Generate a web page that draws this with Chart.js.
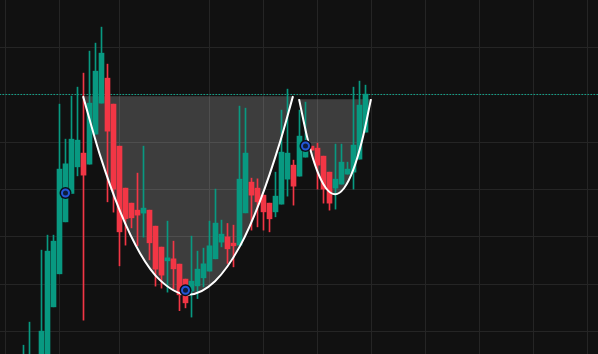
<!DOCTYPE html>
<html>
<head>
  <meta http-equiv="content-type" content="text/html; charset=utf-8"/>
  <script src="https://cdn.jsdelivr.net/npm/chart.js@4/dist/chart.umd.min.js"></script>
  <style>
    html, body { margin: 0; padding: 0; background: #111111; }
    #wrap { width: 598px; height: 354px; }
  </style>
</head>
<body>
<div id="wrap"><canvas id="chart" width="598" height="354"></canvas></div>

<script>
    // candles start at bar index 3 (bars 0..2 are off screen)
    const firstBar = 3;
    const opens  = [42, 42, 44, 43, 44, 55.2, 62.18, 73.16, 79.16, 84.78, 87.68, 85.35, 91.69, 98.24, 103.52, 98.03, 89.15, 80.28, 77.11, 75.63,
                    75.0, 75.63, 72.25, 67.82, 64.92, 65.35, 64.23, 61.06, 58.52, 59.63, 61.33, 62.75, 65.35, 68.87, 69.99, 68.66, 68.24, 75.06, 81.55, 80.28,
                    78.8, 77.11, 75.27, 76.9, 82.18, 85.14, 82.82, 86.83, 89.15, 88.73, 87.04, 83.66, 80.28, 81.13, 83.24, 83.66, 86.41, 92.11];
    const highs  = [47.1, 51.97, 44.9, 67.18, 70.35, 70.35, 98.03, 90.63, 99.72, 101.62, 104.58, 109.23, 110.92, 114.3, 106.48, 98.03, 89.15, 80.28, 77.11, 83.45,
                    89.15, 75.63, 72.25, 67.82, 73.31, 69.08, 64.23, 61.06, 70.14, 66.97, 67.6, 73.31, 80.07, 73.52, 72.82, 72.46, 97.61, 97.18, 82.39, 82.25,
                    78.8, 77.11, 83.66, 96.76, 101.2, 86.2, 96.76, 98.45, 89.15, 89.79, 87.04, 83.66, 89.58, 89.58, 85.77, 101.62, 102.89, 102.04];
    const lows   = [41, 41, 42, 42, 43, 55.2, 62.18, 73.16, 79.16, 82.88, 52.39, 85.35, 91.69, 98.24, 77.39, 75.21, 63.87, 68.24, 71.89, 68.13,
                    69.93, 65.13, 59.58, 59.15, 58.31, 58.94, 54.4, 54.99, 53.04, 56.95, 59.43, 62.75, 65.35, 67.88, 64.37, 63.65, 68.24, 75.06, 71.41, 72.1,
                    71.41, 71.05, 74.22, 76.9, 78.59, 76.69, 82.82, 86.83, 88.31, 80.07, 77.11, 75.63, 75.85, 81.13, 83.24, 80.07, 86.41, 92.11];
    const closes = [44.5, 45, 43, 50.07, 66.97, 69.08, 84.3, 85.42, 90.63, 90.42, 83.03, 98.24, 105.0, 108.8, 92.32, 80.07, 71.05, 73.84, 74.01, 74.58,
                    76.06, 68.73, 63.17, 61.9, 65.56, 63.23, 57.74, 56.05, 60.63, 63.17, 64.29, 68.1, 72.89, 70.56, 67.46, 68.1, 82.18, 87.68, 78.8, 77.39,
                    75.27, 73.8, 78.59, 87.89, 87.68, 80.7, 91.27, 89.15, 88.31, 85.14, 80.07, 77.11, 82.18, 85.77, 84.3, 89.37, 97.82, 100.14];

    // cup outlines (bar index, price)
    const bigCupX = [12.92, 15.75, 19.08, 22.42, 25.75, 30.42, 34.92, 39.08, 42.42, 45.75, 47.92];
    const bigCupY = [99.72, 87.25, 75.42, 66.55, 60.85, 57.78, 60.63, 68.03, 77.54, 90.0, 99.72];
    const bigCupRim = 99.72;
    const smallCupX = [48.92, 50.42, 51.92, 53.42, 54.92, 56.42, 57.92, 59.42, 60.92];
    const smallCupY = [99.08, 90.29, 84.02, 80.26, 79.01, 80.26, 84.02, 90.29, 99.08];
    const smallCupRim = 99.08;

    const resistance = 100.07;
    const markerX = [10, 30, 50];
    const markerY = [79.25, 58.7, 89.18];

    const xGrid = [0, 9, 19, 34, 43, 52, 61, 70, 79, 88, 97];
    const yGrid = [50, 60, 70, 80, 90, 100, 110];

    const upColor = '#089981';
    const downColor = '#f23645';
    const gridColor = '#252525';

    const bars = opens.map((_, i) => firstBar + i);
    const candleColors = opens.map((o, i) => closes[i] >= o ? upColor : downColor);
    const bodies = bars.map((k, i) => ({x: k, y: [opens[i], closes[i]]}));
    const wicks = bars.map((k, i) => ({x: k, y: [lows[i], highs[i]]}));
    const toPoints = (xs, ys) => xs.map((x, i) => ({x: x, y: ys[i]}));

    function cup(xs, ys, rim) {
        return {
            type: 'line',
            data: toPoints(xs, ys),
            borderColor: '#ffffff',
            borderWidth: 2,
            backgroundColor: 'rgba(255,255,255,0.19)',
            fill: {value: rim},
            cubicInterpolationMode: 'monotone',
            pointRadius: 0,
            order: 2
        };
    }

    new Chart(document.getElementById('chart'), {
        type: 'bar',
        data: {
            datasets: [
                {
                    type: 'line',
                    data: toPoints(markerX, markerY),
                    showLine: false,
                    pointRadius: 3.5,
                    pointBorderWidth: 2,
                    pointBorderColor: '#2456d6',
                    pointBackgroundColor: '#0d1c3d',
                    order: 0
                },
                {
                    type: 'line',
                    data: toPoints(markerX, markerY),
                    showLine: false,
                    pointRadius: 6,
                    pointBorderWidth: 0,
                    pointBackgroundColor: '#0a0e18',
                    order: 1
                },
                cup(bigCupX, bigCupY, bigCupRim),
                cup(smallCupX, smallCupY, smallCupRim),
                {
                    type: 'bar',
                    data: bodies,
                    backgroundColor: candleColors,
                    barThickness: 5,
                    minBarLength: 1,
                    grouped: false,
                    borderWidth: 0,
                    order: 4
                },
                {
                    type: 'bar',
                    data: wicks,
                    backgroundColor: candleColors,
                    barThickness: 1,
                    grouped: false,
                    borderWidth: 0,
                    order: 5
                },
                {
                    type: 'line',
                    data: [{x: -2, y: resistance}, {x: 100, y: resistance}],
                    borderColor: '#12a58b',
                    borderWidth: 1,
                    borderDash: [1.5, 1.5],
                    pointRadius: 0,
                    order: 6
                }
            ]
        },
        options: {
            responsive: false,
            animation: false,
            devicePixelRatio: 1,
            layout: {padding: 0, autoPadding: false},
            plugins: {
                legend: {display: false},
                tooltip: {enabled: false},
                filler: {drawTime: 'beforeDatasetsDraw'}
            },
            scales: {
                x: {
                    type: 'linear',
                    min: -0.9167,
                    max: 98.75,
                    offset: false,
                    afterBuildTicks: (axis) => { axis.ticks = xGrid.map(v => ({value: v})); },
                    ticks: {display: false},
                    grid: {color: gridColor, drawTicks: false, offset: false},
                    border: {display: false}
                },
                y: {
                    min: 45.24,
                    max: 120.03,
                    afterBuildTicks: (axis) => { axis.ticks = yGrid.map(v => ({value: v})); },
                    ticks: {display: false},
                    grid: {color: gridColor, drawTicks: false},
                    border: {display: false}
                }
            }
        }
    });
</script>
</body>
</html>
